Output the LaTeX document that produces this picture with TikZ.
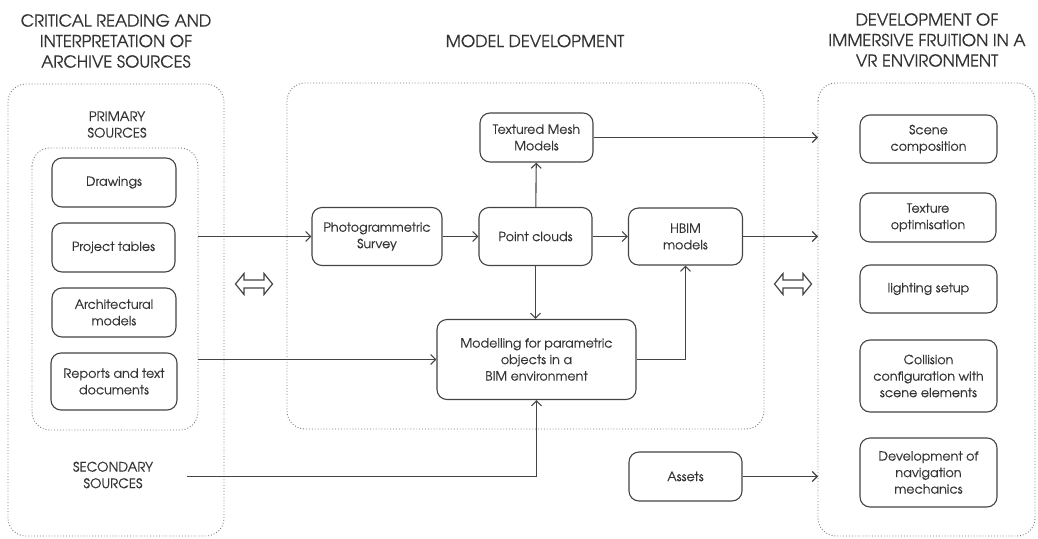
\documentclass[tikz,border=0pt]{standalone}
\usepackage{fontspec}
\setmainfont{texgyreadventor-regular.otf}[FakeBold=0.35]
\usetikzlibrary{arrows.meta,positioning,calc}
\definecolor{txt}{HTML}{333333}
\definecolor{ln}{HTML}{444444}
\definecolor{dot}{HTML}{777777}
\tikzset{
  every node/.style={text=txt},
  box/.style={draw=ln, line width=1.1pt, rounded corners=10pt, align=center, inner sep=2pt,
    font=\fontsize{12.7}{16.5}\selectfont},
  group/.style={draw=dot, dotted, line width=0.9pt, rounded corners=18pt},
  title/.style={align=center, font=\fontsize{16.5}{20.5}\selectfont},
  sub/.style={align=center, font=\fontsize{13.2}{16.5}\selectfont},
  conn/.style={draw=ln, line width=1.1pt, -{Straight Barb[length=5pt,width=10pt,line width=1.1pt]}},
  dblarrow/.style={draw=ln, line width=1.2pt, line join=miter},
}
\begin{document}
\begin{tikzpicture}[x=1pt,y=-1pt]
\useasboundingbox (0,0) rectangle (1038,538);
% groups
\draw[group] (8,84) rectangle (224,536);
\draw[group] (32,148) rectangle (198,430);
\coordinate (innerE) at (198,289);
\draw[group] (287,83) rectangle (764,429);
\draw[group] (818,83) rectangle (1035,536);
\coordinate (rightW) at (818,310);
% titles
\node[title] (t1) at (116,41) {CRITICAL READING AND\\INTERPRETATION OF\\ARCHIVE SOURCES};
\node[title] (t2) at (535,41) {MODEL DEVELOPMENT};
\node[title] (t3) at (927,40) {DEVELOPMENT OF\\IMMERSIVE FRUITION IN A\\VR ENVIRONMENT};
\node[sub] (prim) at (117,124.5) {PRIMARY\\SOURCES};
\node[sub] (sec) at (113,475) {SECONDARY\\SOURCES};
% left nodes
\node[box, minimum width=124pt, minimum height=49pt] (draw1) at (114,182.5) {Drawings};
\node[box, minimum width=123pt, minimum height=49pt] (proj) at (113.5,247.5) {Project tables};
\node[box, minimum width=124pt, minimum height=49pt] (arch) at (114,312.5) {Architectural\\models};
\node[box, minimum width=126pt, minimum height=57pt] (rep) at (114,381.5) {Reports and text\\documents};
% middle nodes
\node[box, minimum width=113pt, minimum height=49pt] (tmm) at (536.5,137.5) {Textured Mesh\\Models};
\node[box, minimum width=130pt, minimum height=58pt] (photo) at (377,236.5) {Photogrammetric\\Survey};
\node[box, minimum width=113pt, minimum height=58pt] (pc) at (535.5,236.5) {Point clouds};
\node[box, minimum width=114pt, minimum height=57pt] (hbim) at (685.5,236.5) {HBIM\\models};
\node[box, minimum width=199pt, minimum height=80pt] (mod) at (536.5,359.5) {Modelling for parametric\\objects in a\\BIM environment};
\node[box, minimum width=113pt, minimum height=49pt] (assets) at (685.5,476.5) {Assets};
% right nodes
\node[box, minimum width=137pt, minimum height=48pt] (scene) at (928.5,139) {Scene\\composition};
\node[box, minimum width=136pt, minimum height=49pt] (tex) at (928,217.5) {Texture\\optimisation};
\node[box, minimum width=137pt, minimum height=48pt] (light) at (928.5,289) {lighting setup};
\node[box, minimum width=137pt, minimum height=72pt] (coll) at (928.5,376) {Collision\\configuration with\\scene elements};
\node[box, minimum width=137pt, minimum height=69pt] (nav) at (928.5,472.5) {Development of\\navigation\\mechanics};
% connectors
\draw[conn] (innerE |- photo.west) -- (photo.west);
\draw[conn] (innerE |- mod.west) -- (mod.west);
\coordinate (secE) at (187,476.5);
\draw[conn] (secE) -- (secE -| mod.south) -- (mod.south);
\draw[conn] (photo) -- (pc);
\draw[conn] (pc) -- (hbim);
\draw[conn] (pc) -- (tmm);
\draw[conn] (pc) -- (pc |- mod.north);
\draw[conn] (mod.east) -- (mod.east -| hbim.south) -- (hbim.south);
\draw[conn] (tmm.east) -- (rightW |- tmm.east);
\draw[conn] (hbim.east) -- (rightW |- hbim.east);
\draw[conn] (assets.east) -- (rightW |- assets.east);
% hollow double arrows
\coordinate (d1) at (254,284);
\coordinate (d2) at (793,284);
\foreach \c in {d1,d2}{
  \draw[dblarrow, shift={(\c)}] (-18.5,0) -- (-10,-10.5) -- (-10,-4) -- (10,-4) -- (10,-10.5) -- (18.5,0) -- (10,10.5) -- (10,4) -- (-10,4) -- (-10,10.5) -- cycle;
}
\end{tikzpicture}
\end{document}
